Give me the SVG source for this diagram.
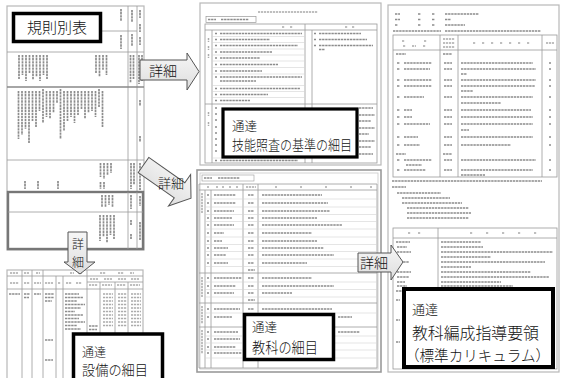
<svg xmlns="http://www.w3.org/2000/svg" width="562" height="378" viewBox="0 0 562 378">
<defs>
<linearGradient id="ag" x1="0" y1="0" x2="0" y2="1"><stop offset="0" stop-color="#f6f6f6"/><stop offset="1" stop-color="#dedede"/></linearGradient>
<filter id="soft" x="-5%" y="-5%" width="110%" height="110%"><feGaussianBlur stdDeviation="0.45"/></filter>
</defs>
<style>
.pg{fill:#fff;stroke:#b8b8b8;stroke-width:1.2}
.ln{fill:none;stroke:#9a9a9a;stroke-width:0.8}
.lnl{fill:none;stroke:#d4d4d4;stroke-width:0.6}
.tx{fill:none;stroke:#8c8c8c;stroke-width:1.7;stroke-dasharray:2.4 0.7}
.txl{fill:none;stroke:#ababab;stroke-width:1.5;stroke-dasharray:2.2 0.8}
.lab{fill:#fff;stroke:#000}
.jt{font-family:"Noto Sans CJK JP","Noto Sans",sans-serif;font-weight:300;fill:#111}
.arr{fill:url(#ag);stroke:#555;stroke-width:1}
</style>
<rect width="562" height="378" fill="#fff"/>

<g id="page-kisoku" filter="url(#soft)">
<rect class="pg" x="7" y="6" width="137" height="244"/>
<path class="ln" d="M7 52H144M7 160H144M128 6V192M137 6V192M101 31H137"/>
<path fill="none" stroke="#888" stroke-width="1.6" d="M7 87H144"/>
<rect x="8" y="192" width="135" height="57" fill="none" stroke="#777" stroke-width="2.4"/>
<path class="ln" d="M8 212H143M128 192V249M137 192V249"/>
<path class="tx" d="M121 9v12M121 35v14M132 10v12M132 34v12M140 10v8M140 24v8M140 37v8"/>
<path class="tx" d="M19 55v24M22.5 55v20M26 55v26M29.5 55v18M33 55v25M36.5 55v22M40 55v26M43.5 55v20M47 55v24M96 55v18M99.5 55v22M103 55v15M106.5 55v20M130.5 55v28M133.5 55v24M139 55v29M142 55v26"/>
<path class="tx" d="M18.5 91v48M22 91v44M25.5 91v38M29 91v52M32.5 91v30M36 91v36M39.5 91v20M43 89v34M46.5 91v26M50 91v28M53.5 91v22M57 91v12M60.5 89v50M64 91v40M67.5 91v30M71 91v26M74.5 91v32M78 91v24M81.5 91v18M85 91v28M88.5 91v22M92 91v20M95.5 91v26M99 89v18M102.5 91v36M140 100v6M140 136v6"/>
<path class="tx" d="M100.5 163v14M104 163v16M107.5 163v12M111 163v10M131 163v26M134 163v22M140 163v27M25 181v8M38 181v8M58 181v8M100.5 182v7M104 182v7"/>
<path class="tx" d="M102 195v12M105.5 195v12M109 195v10M112.5 195v12M131 195v14M140 196v10M100 215v26M103.5 215v22M107 215v28M110.5 215v20M114 215v24M131 220v5M131 234v5M140 222v18"/>
</g>

<g id="page-setsubi" filter="url(#soft)">
<rect class="pg" x="7" y="270" width="136" height="112"/>
<path class="ln" d="M7 276H143M7 289H143M87 282H143M22 270V378M32 270V378M43 270V378M56 276V378M63 276V378M87 270V378M100 282V378M115 282V378M128 282V378"/>
<path class="txl" d="M10 273h8M24 273h5M36 273h4M70 273h4M78 273h4M100 273h6M118 273h6M130 273h4M10 283h9M24 283h6M34 283h7M45 283h8M58 283h3M66 283h6M76 283h6M90 279h8M104 279h8M118 279h8M131 279h8M89 285h9M102 285h10M117 285h9M130 285h10"/>
<path class="tx" d="M9 294h11M24 294h6M24 297.5h5M34 294h7M45 294h9M45 297.5h9M45 301h7M65 294h14M65 297.5h18M65 301h12M65 304.5h20M65 308h16M65 311.5h10M65 315h18M65 318.5h14M65 322h20M65 325.5h12M65 329h16M89 326h9M89 329.5h8M45 340h8M45 360h8"/>
<path class="txl" d="M103 294h10M118 294h9M131 294h10M103 297.5h10M118 297.5h9M131 297.5h10M103 301h10M118 301h9M131 301h10M103 304.5h10M118 304.5h9M131 304.5h10M103 308h10M118 308h9M131 308h10M103 311.5h10M118 311.5h9M131 311.5h10M103 315h10M118 315h9M131 315h10M103 318.5h10M118 318.5h9M131 318.5h10M103 322h10M118 322h9M131 322h10M103 325.5h10M118 325.5h9M131 325.5h10"/>
</g>

<g id="page-ginou" filter="url(#soft)">
<rect class="pg" x="200" y="3" width="181" height="162" stroke="#cdcdcd"/>
<path class="txl" d="M258 12h60"/>
<rect x="206" y="16.5" width="50" height="6" fill="none" stroke="#999" stroke-width="0.7"/>
<path class="tx" d="M208 19.5h8M221 19.5h28"/>
<rect x="205" y="24" width="172" height="139" fill="none" stroke="#999" stroke-width="0.8"/>
<path class="ln" d="M205 30H377M305 24V163M212 30V163M312 30V163M205 104H377"/>
<path class="lnl" d="M212 36.5H305M212 42.5H305M212 49H305M212 55H305M212 61H305M212 67.5H305M212 74H305M212 85.5H305M212 91.5H305M212 97.5H305M212 158H305"/>
<path class="txl" d="M282 27h3M290 27h3M345 27h3M352 27h3M208.5 38v4M208.5 46v4M208.5 54v4M208.5 112v4M208.5 122v4"/>
<path class="tx" d="M215 33.5h2M220 33.5h82M215 39.5h2M220 39.5h50M215 45.5h2M220 45.5h78M215 52h2M220 52h52M215 58h2M220 58h40M215 64.5h2M220 64.5h58M215 71h2M220 71h42M215 77h2M220 77h82M220 81h36M215 88.5h2M220 88.5h80M215 94.5h2M220 94.5h48M215 100.5h2M220 100.5h30M314 33.5h2M319 33.5h42M314 39.5h2M319 39.5h48M314 45.5h2M319 45.5h54M319 49.5h6"/>
<path class="tx" d="M215 108h2M215 114h2M215 120h2M215 127h2M215 133h2M215 139h2M215 145h2M215 151h2M215 160.5h2M220 160.5h78M359 108h14M359 115h16M359 121h12M359 128h16M359 134h10M359 141h16M359 147h12M359 154h14"/>
</g>

<g id="page-kyouka" filter="url(#soft)">
<rect x="197" y="170" width="184" height="202" fill="#fff" stroke="#9a9a9a" stroke-width="1.6"/>
<rect x="200" y="173" width="178" height="196" fill="none" stroke="#c8c8c8" stroke-width="0.8"/>
<rect x="202" y="175" width="52" height="6" fill="none" stroke="#999" stroke-width="0.6"/>
<path class="tx" d="M204 178h8M218 178h22"/>
<path class="ln" d="M199 184H377M199 190H377M199 184V368M205 190V368M211 190V368M243 184V368M258 184V368M377 184V368M199 368H377M199 273H377M199 303H377M199 327H377"/>
<path class="lnl" d="M205 199H377M205 207H377M205 214.5H377M205 221.5H377M205 229H377M205 237H377M205 244.5H377M205 251.5H377M205 259H377M205 266.5H377M205 282H377M205 289.5H377M205 297H377M205 313H377M205 336H377M205 343H377M205 350H377M205 358H377"/>
<path class="txl" d="M207 187h2M216 187h2M222 187h2M229 187h2M236 187h2M246 187h10M275 187h2M300 187h2M325 187h2M350 187h2M370 187h2M202 193v20M202 277v20M202 306v18M202 330v24"/>
<path class="tx" d="M207 195h2M214 195h22M248 195h6M262 195h60M207 203h2M214 203h22M248 203h6M262 203h66M207 211h2M214 211h20M248 211h6M262 211h68M207 218h2M214 218h18M248 218h6M262 218h55M207 225h2M214 225h20M248 225h6M262 225h80M207 233h2M214 233h10M248 233h6M262 233h50M207 241h2M214 241h8M248 241h6M262 241h55M207 248h2M214 248h14M248 248h6M262 248h62M207 255h2M214 255h12M248 255h6M262 255h72M207 263h2M214 263h14M248 263h6M262 263h45M248 270h7M207 278h2M214 278h28M248 278h6M262 278h50M207 286h2M214 286h22M248 286h6M262 286h72M207 293h2M214 293h20M248 293h6M262 293h30M248 300h7M207 309h2M214 309h26M248 309h6M262 309h70M207 317h2M214 317h18M207 332h2M214 332h24M207 339h2M214 339h26M207 347h2M214 347h22M207 353h2M214 353h28M338 317h14M338 332h22"/>
</g>

<g id="page-hensei" filter="url(#soft)">
<rect class="pg" x="388" y="5" width="171" height="367" stroke="#cfcfcf" stroke-width="1.5"/>
<path class="tx" d="M395 14h5M418 14h3M432 14h3M445 14h34M395 19.5h5M418 19.5h3M432 19.5h3M445 19.5h6M395 25h3M418 25h3M432 25h3M445 25h20M393 31h48M445 31h96"/>
<rect x="393" y="35" width="164" height="142" fill="none" stroke="#999" stroke-width="0.8"/>
<path class="ln" d="M393 50H557M440 35V177M458 35V177M542 35V177"/>
<path class="txl" d="M402 41h3M424 41h3M403 46h3M412 46h4M423 46h3M443 39h12M443 43h12M443 47h12M473 43h3M482 43h3M491 43h3M500 43h3M509 43h3M518 43h3M527 43h3M546 43h8"/>
<path class="tx" d="M396 54h10M443 54h9M397 63h3M404 63h28M444 63h8M461 63h72M549 63h2M397 69h3M404 69h26M444 69h8M461 69h75M549 69h2M461 74h6M397 80h3M404 80h28M444 80h8M461 80h75M549 80h2M397 86h3M404 86h28M444 86h8M461 86h74M461 91h12M549 86h2M397 97h3M404 97h20M444 97h8M461 97h72M549 97h2M461 103h40M397 110h3M404 110h8M444 110h8M461 110h70M549 110h2M397 117h3M404 117h8M444 117h8M461 117h72M549 117h2M397 124h3M404 124h26M444 124h8M461 124h72M461 130h8M549 124h2M397 137h3M404 137h14M444 137h8M461 137h72M549 137h2M397 145h3M404 145h16M444 145h8M461 145h50M549 145h2M396 154h10M443 154h9M397 160h3M404 160h28M406 165h16M444 160h8M461 160h75M549 160h2M397 170h3M404 170h22M444 170h8M461 170h72M461 175h24M549 170h2"/>
<path class="tx" d="M392 181h150M392 187h14M397 193h44M402 198h48M402 203h60M407 208h62M407 213h64M407 218h62"/>
<rect x="393" y="228" width="164" height="141" fill="none" stroke="#999" stroke-width="0.8"/>
<path class="ln" d="M393 238H557M438 228V369"/>
<path class="txl" d="M408 233h3M418 233h3M470 233h3M486 233h3M502 233h3M518 233h3M534 233h3"/>
<path class="tx" d="M396 242h14M441 242h40M397 247h10M441 247h42M397 252h14M441 252h112M441 257h50M397 262h12M441 262h104M441 267h30M397 272h14M441 272h90M397 277h12M441 277h108M397 282h8M441 282h60M397 286h10M441 286h72M396 291h16M396 300h4M396 320h4M396 342h4"/>
</g>

<g id="label-kisoku">
<rect class="lab" x="13.5" y="13.5" width="87" height="28" stroke-width="3.5"/>
<text class="jt" x="57" y="33" font-size="15" text-anchor="middle">規則別表</text>
</g>
<g id="label-ginou">
<rect class="lab" x="223" y="109" width="134" height="48" stroke-width="3.2"/>
<text class="jt" x="232" y="131" font-size="12.5">通達</text>
<text class="jt" x="232" y="150" font-size="14" textLength="120" lengthAdjust="spacingAndGlyphs">技能照査の基準の細目</text>
</g>
<g id="label-setsubi">
<rect class="lab" x="73.5" y="334" width="89" height="52" stroke-width="3.5"/>
<text class="jt" x="82" y="357" font-size="12">通達</text>
<text class="jt" x="82" y="375" font-size="14" textLength="66" lengthAdjust="spacingAndGlyphs">設備の細目</text>
</g>
<g id="label-kyouka">
<rect class="lab" x="244.5" y="314.5" width="89" height="45" stroke-width="3.5"/>
<text class="jt" x="252" y="332" font-size="12.5">通達</text>
<text class="jt" x="252" y="353" font-size="15" textLength="66" lengthAdjust="spacingAndGlyphs">教科の細目</text>
</g>
<g id="label-hensei">
<rect class="lab" x="404" y="289" width="149" height="78" stroke-width="4"/>
<text class="jt" x="412" y="314" font-size="13">通達</text>
<text class="jt" x="412" y="339" font-size="16" textLength="127" lengthAdjust="spacingAndGlyphs">教科編成指導要領</text>
<text class="jt" x="405" y="361" font-size="15" textLength="145" lengthAdjust="spacingAndGlyphs">（標準カリキュラム）</text>
</g>

<g id="connectors">
<polygon class="arr" points="140,60 187,60 187,53 199,71.5 187,90 187,80 140,80"/>
<text class="jt" x="163" y="76" font-size="14" text-anchor="middle">詳細</text>
<polygon class="arr" transform="translate(143.5,165) rotate(35)" points="0,-9.2 44,-9.2 44,-19.3 58,0 44,19.3 44,9.2 0,9.2"/>
<text class="jt" x="171" y="188" font-size="13" text-anchor="middle">詳細</text>
<polygon class="arr" points="68,232 87,232 87,262 95,262 80,274 64,262 68,262"/>
<text class="jt" x="78" y="249" font-size="12" text-anchor="middle">詳</text>
<text class="jt" x="78" y="267" font-size="12" text-anchor="middle">細</text>
<polygon class="arr" points="358,253 391,253 391,245 403,262 391,280 391,272 358,272"/>
<text class="jt" x="374" y="268" font-size="14" text-anchor="middle">詳細</text>
</g>
</svg>
